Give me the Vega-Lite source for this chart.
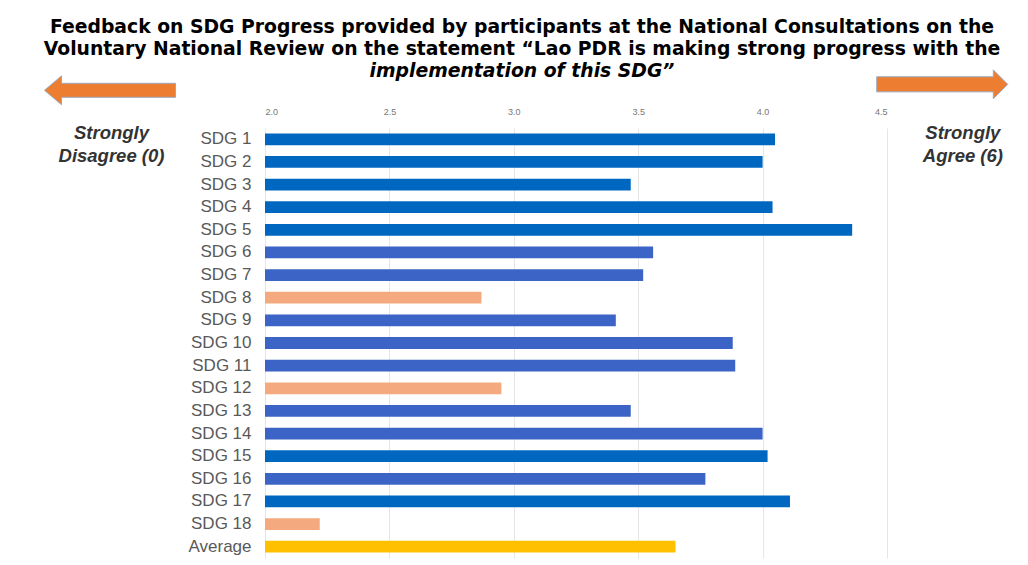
{
  "$schema": "https://vega.github.io/schema/vega-lite/v6.json",
  "width": 622,
  "height": 430,
  "autosize": {"type": "none"},
  "padding": {"left": 265, "top": 128, "right": 141, "bottom": 7},
  "background": "white",
  "title": {
    "text": [
      "Feedback on SDG Progress provided by participants at the National Consultations on the",
      "Voluntary National Review on the statement \u201cLao PDR is making strong progress with the"
    ],
    "subtitle": "implementation of this SDG\u201d",
    "anchor": "middle",
    "frame": "group",
    "dx": -54,
    "dy": 23,
    "font": "DejaVu Sans",
    "fontSize": 18.8,
    "fontWeight": "bold",
    "color": "#000000",
    "lineHeight": 22,
    "subtitleFont": "DejaVu Sans",
    "subtitleFontSize": 18.8,
    "subtitleFontWeight": "bold",
    "subtitleFontStyle": "italic",
    "subtitleColor": "#000000",
    "subtitleLineHeight": 22,
    "subtitlePadding": 3,
    "offset": 10
  },
  "config": {
    "view": {"stroke": null},
    "axis": {"labelFont": "Liberation Sans"}
  },
  "layer": [
    {
      "data": {
        "values": [
          {"sdg": "SDG 1", "score": 4.05, "group": "Set A"},
          {"sdg": "SDG 2", "score": 4.00, "group": "Set A"},
          {"sdg": "SDG 3", "score": 3.47, "group": "Set A"},
          {"sdg": "SDG 4", "score": 4.04, "group": "Set A"},
          {"sdg": "SDG 5", "score": 4.36, "group": "Set A"},
          {"sdg": "SDG 6", "score": 3.56, "group": "Set B"},
          {"sdg": "SDG 7", "score": 3.52, "group": "Set B"},
          {"sdg": "SDG 8", "score": 2.87, "group": "Below 3"},
          {"sdg": "SDG 9", "score": 3.41, "group": "Set B"},
          {"sdg": "SDG 10", "score": 3.88, "group": "Set B"},
          {"sdg": "SDG 11", "score": 3.89, "group": "Set B"},
          {"sdg": "SDG 12", "score": 2.95, "group": "Below 3"},
          {"sdg": "SDG 13", "score": 3.47, "group": "Set B"},
          {"sdg": "SDG 14", "score": 4.00, "group": "Set B"},
          {"sdg": "SDG 15", "score": 4.02, "group": "Set A"},
          {"sdg": "SDG 16", "score": 3.77, "group": "Set B"},
          {"sdg": "SDG 17", "score": 4.11, "group": "Set A"},
          {"sdg": "SDG 18", "score": 2.22, "group": "Below 3"},
          {"sdg": "Average", "score": 3.65, "group": "Average"}
        ]
      },
      "mark": {"type": "bar"},
      "encoding": {
        "y": {
          "field": "sdg",
          "type": "nominal",
          "sort": null,
          "scale": {
            "domain": ["SDG 1","SDG 2","SDG 3","SDG 4","SDG 5","SDG 6","SDG 7","SDG 8","SDG 9","SDG 10","SDG 11","SDG 12","SDG 13","SDG 14","SDG 15","SDG 16","SDG 17","SDG 18","Average"],
            "paddingInner": 0.48,
            "paddingOuter": 0.24
          },
          "axis": {
            "title": null,
            "ticks": false,
            "domain": false,
            "grid": false,
            "labelFontSize": 17,
            "labelColor": "#595959",
            "labelPadding": 14
          }
        },
        "x": {
          "field": "score",
          "type": "quantitative",
          "scale": {"domain": [2, 4.5], "zero": false, "nice": false},
          "axis": {
            "orient": "top",
            "title": null,
            "values": [2, 2.5, 3, 3.5, 4, 4.5],
            "format": ".1f",
            "ticks": false,
            "domain": false,
            "grid": true,
            "gridColor": "#e6e6e6",
            "labelFontSize": 9,
            "labelColor": "#777777",
            "labelPadding": 12
          }
        },
        "x2": {"datum": 2},
        "color": {
          "field": "group",
          "type": "nominal",
          "scale": {
            "domain": ["Set A", "Set B", "Below 3", "Average"],
            "range": ["#0067C0", "#3B64C6", "#F4AA7E", "#FFC000"]
          },
          "legend": null
        }
      }
    },
    {
      "data": {"values": [{"end": "Strongly\nDisagree (0)"}]},
      "mark": {
        "type": "text",
        "clip": false,
        "lineBreak": "\n",
        "lineHeight": 23,
        "font": "Liberation Sans",
        "fontSize": 18.5,
        "fontStyle": "italic",
        "fontWeight": "bold",
        "color": "#333333",
        "align": "center",
        "baseline": "middle",
        "dy": -6
      },
      "encoding": {
        "text": {"field": "end"},
        "x": {"datum": 1.383},
        "y": {"datum": "SDG 1", "type": "nominal"}
      }
    },
    {
      "data": {"values": [{"end": "Strongly\nAgree (6)"}]},
      "mark": {
        "type": "text",
        "clip": false,
        "lineBreak": "\n",
        "lineHeight": 23,
        "font": "Liberation Sans",
        "fontSize": 18.5,
        "fontStyle": "italic",
        "fontWeight": "bold",
        "color": "#333333",
        "align": "center",
        "baseline": "middle",
        "dy": -6
      },
      "encoding": {
        "text": {"field": "end"},
        "x": {"datum": 4.805},
        "y": {"datum": "SDG 1", "type": "nominal"}
      }
    },
    {
      "data": {"values": [{"end": "Strongly Disagree (0)"}]},
      "mark": {
        "type": "point",
        "clip": false,
        "filled": true,
        "opacity": 1,
        "fill": "#ED7D31",
        "stroke": "#9aa8c0",
        "strokeWidth": 1,
        "size": 17161,
        "shape": "M-1,0L-0.74,-0.22L-0.74,-0.107L1,-0.107L1,0.107L-0.74,0.107L-0.74,0.22Z",
        "yOffset": -49
      },
      "encoding": {
        "x": {"datum": 1.377},
        "y": {"datum": "SDG 1", "type": "nominal"}
      }
    },
    {
      "data": {"values": [{"end": "Strongly Agree (6)"}]},
      "mark": {
        "type": "point",
        "clip": false,
        "filled": true,
        "opacity": 1,
        "fill": "#ED7D31",
        "stroke": "#9aa8c0",
        "strokeWidth": 1,
        "size": 17161,
        "shape": "M1,0L0.78,-0.22L0.78,-0.115L-1,-0.115L-1,0.115L0.78,0.115L0.78,0.22Z",
        "yOffset": -55
      },
      "encoding": {
        "x": {"datum": 4.722},
        "y": {"datum": "SDG 1", "type": "nominal"}
      }
    }
  ]
}
